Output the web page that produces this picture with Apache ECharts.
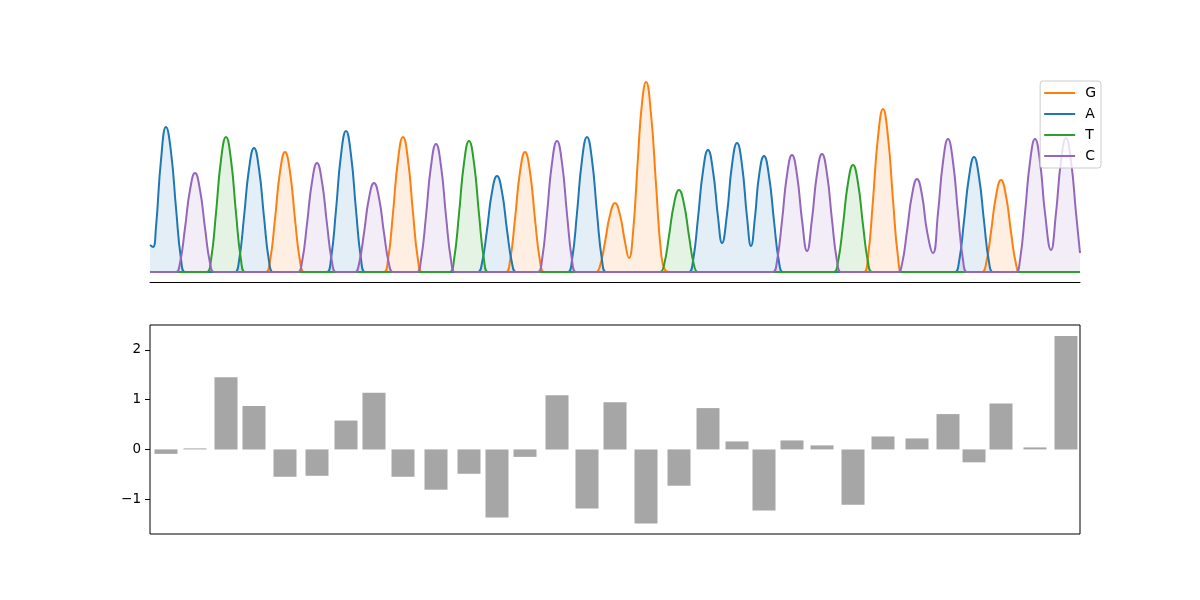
<!DOCTYPE html>
<html>
<head>
<meta charset="utf-8">
<script src="https://cdn.jsdelivr.net/npm/echarts@6/dist/echarts.min.js"></script>
<style>
html,body{margin:0;padding:0;background:#fff;}
#chart{width:1200px;height:600px;}
</style>
</head>
<body>
<div id="chart"></div>
<script>
// ---- data (x in scan units, y in trace intensity units) ----
const traceNames = ['G', 'A', 'T', 'C'];

const traceG = [[0,0],
  [111,0],[116,0],[120,11],[125,53],[130,100],[135,120],[140,100],[145,53],[150,11],[154,0],[159,0],
  [229,0],[234,0],[238,12],[243,59],[248,112],[253,135],[258,112],[263,59],[268,12],[272,0],[277,0],
  [351,0],[356,0],[360,11],[365,53],[370,100],[375,120],[380,100],[385,53],[390,11],[394,0],[399,0],
  [441,0],[446,0],[450,6],[455,30],[460,57],[465,69],[470,57],[475,30],[479,14],[483,39],[488,115],[492,169],[496,190],[501,158],[506,88],[511,20],[515,2],[520,0],[525,0],
  [709,0],[714,0],[718,15],[723,72],[728,135],[733,163],[738,135],[743,72],[748,15],[752,0],[757,0],
  [827,0],[832,0],[836,8],[841,40],[846,76],[851,92],[856,76],[861,40],[866,8],[870,0],[875,0],
  [930,0]];

const traceA = [[0,27],[3,25],[6,45],[11,112],[16,145],[21,120],[26,64],[31,13],[35,0],[41,0],
  [80,0],[85,0],[89,11],[94,55],[99,103],[104,124],[109,103],[114,55],[119,11],[123,0],[128,0],
  [172,0],[177,0],[181,13],[186,62],[191,117],[196,141],[201,117],[206,62],[211,13],[215,0],[220,0],
  [323,0],[328,0],[332,9],[337,42],[342,80],[347,96],[352,80],[357,42],[362,9],[366,0],[371,0],
  [413,0],[418,0],[422,12],[427,59],[432,112],[437,135],[442,112],[447,59],[452,12],[456,0],[461,0],
  [534,0],[539,0],[543,11],[548,54],[553,101],[558,122],[563,101],[568,55],[572,29],[577,58],[582,107],[587,129],[592,107],[597,55],[601,26],[605,55],[609,96],[614,116],[619,96],[624,51],[629,10],[633,0],[638,0],
  [800,0],[805,0],[809,10],[814,51],[819,95],[824,115],[829,95],[834,51],[839,10],[843,0],[848,0],
  [930,0]];

const traceT = [[0,0],
  [52,0],[57,0],[61,12],[66,59],[71,112],[76,135],[81,112],[86,59],[91,12],[95,0],[100,0],
  [295,0],[300,0],[304,12],[309,58],[314,109],[319,131],[324,109],[329,58],[334,12],[338,0],[343,0],
  [505,0],[510,0],[514,7],[519,36],[524,68],[529,82],[534,68],[539,36],[544,7],[548,0],[553,0],
  [679,0],[684,0],[688,10],[693,47],[698,89],[703,107],[708,89],[713,47],[718,10],[722,0],[727,0],
  [930,0]];

const traceC = [[0,0],
  [21,0],[26,0],[30,9],[35,44],[40,82],[45,99],[50,82],[55,44],[60,9],[64,0],[69,0],
  [143,0],[148,0],[152,10],[157,48],[162,90],[167,109],[172,90],[177,48],[182,10],[186,0],[191,0],
  [200,0],[205,0],[209,8],[214,39],[219,74],[224,89],[229,74],[234,39],[239,8],[243,0],[248,0],
  [262,0],[267,0],[271,12],[276,56],[281,106],[286,128],[291,106],[296,56],[301,12],[305,0],[310,0],
  [383,0],[388,0],[392,12],[397,58],[402,109],[407,131],[412,109],[417,58],[422,12],[426,0],[431,0],
  [618,0],[623,0],[627,11],[632,51],[637,97],[642,117],[647,97],[652,52],[657,21],[662,53],[667,98],[672,118],[677,98],[682,52],[687,11],[691,0],[696,0],
  [743,0],[748,0],[752,8],[757,41],[762,77],[767,93],[772,77],[777,41],[783,19],[788,59],[793,110],[798,133],[803,110],[808,59],[813,12],[817,0],[822,0],
  [861,0],[866,0],[870,12],[875,59],[880,110],[885,133],[890,110],[895,59],[901,22],[906,59],[911,111],[916,134],[921,111],[926,59],[930,19]];

// base-call positions (scan units) and per-call values for the lower panel
const callPos = [16,45,76,104,135,167,196,224,253,286,319,347,375,407,437,465,
                 496,529,558,587,614,642,672,703,733,767,798,824,851,885,916];
const callValues = [-0.09,0.02,1.45,0.87,-0.55,-0.53,0.58,1.14,-0.55,-0.81,-0.49,-1.37,
                    -0.15,1.09,-1.19,0.95,-1.49,-0.73,0.83,0.16,-1.23,0.18,0.08,-1.11,
                    0.26,0.22,0.71,-0.26,0.92,0.04,2.28];
const valueTicks = [-1, 0, 1, 2];

const scanRange = [0, 930];
const traceRange = [-10, 200];
const valueRange = [-1.7, 2.5];

// ---- chart ----
const colors = {G:'#ff7f0e', A:'#1f77b4', T:'#2ca02c', C:'#9467bd'};
const traces = {G: traceG, A: traceA, T: traceT, C: traceC};
const font = 'DejaVu Sans';

const traceSeries = traceNames.map(n => ({
  name: n,
  type: 'line',
  xAxisIndex: 0,
  yAxisIndex: 0,
  data: traces[n],
  smooth: 0.5,
  showSymbol: false,
  symbol: 'none',
  color: colors[n],
  lineStyle: {width: 2, color: colors[n]},
  areaStyle: {color: colors[n], opacity: 0.12},
  z: 2
}));

const chart = echarts.init(document.getElementById('chart'), null, {renderer: 'canvas'});
chart.setOption({
  animation: false,
  backgroundColor: '#ffffff',
  textStyle: {fontFamily: font},
  grid: [
    {left: 150, right: 120, top: 72, height: 210, containLabel: false},
    {left: 150, right: 120, top: 325, bottom: 66, show: true, borderColor: '#000', borderWidth: 1, backgroundColor: 'transparent'}
  ],
  legend: {
    orient: 'vertical',
    right: 99,
    top: 81,
    data: traceNames,
    icon: 'rect',
    itemWidth: 31,
    itemHeight: 2,
    itemGap: 7,
    padding: [5, 5, 5, 4],
    backgroundColor: 'rgba(255,255,255,0.8)',
    borderColor: '#cccccc',
    borderWidth: 1,
    borderRadius: 3,
    textStyle: {fontFamily: font, fontSize: 14, lineHeight: 14, color: '#000', padding: [0, 0, 0, 5]},
    z: 10
  },
  xAxis: [
    {type: 'value', gridIndex: 0, min: scanRange[0], max: scanRange[1],
     axisLine: {show: true, onZero: false, lineStyle: {color: '#000', width: 1}},
     axisTick: {show: false}, axisLabel: {show: false}, splitLine: {show: false}},
    {type: 'value', gridIndex: 1, min: scanRange[0], max: scanRange[1],
     axisLine: {show: false}, axisTick: {show: false}, axisLabel: {show: false}, splitLine: {show: false}}
  ],
  yAxis: [
    {type: 'value', gridIndex: 0, min: traceRange[0], max: traceRange[1], show: false, splitLine: {show: false}},
    {type: 'value', gridIndex: 1, min: valueRange[0], max: valueRange[1],
     axisLine: {show: false},
     axisTick: {show: true, inside: false, length: 5, lineStyle: {color: '#000', width: 1}, customValues: valueTicks},
     axisLabel: {show: true, margin: 9, color: '#000', fontFamily: font, fontSize: 13.5,
                 customValues: valueTicks,
                 formatter: v => (v < 0 ? '\u2212' + Math.abs(v) : String(v))},
     splitLine: {show: false}}
  ],
  series: traceSeries.concat([{
    name: 'delta',
    type: 'bar',
    xAxisIndex: 1,
    yAxisIndex: 1,
    data: callPos.map((x, i) => [x, callValues[i]]),
    barWidth: 23,
    itemStyle: {color: '#a6a6a6'},
    legendHoverLink: false
  }])
});
</script>
</body>
</html>
